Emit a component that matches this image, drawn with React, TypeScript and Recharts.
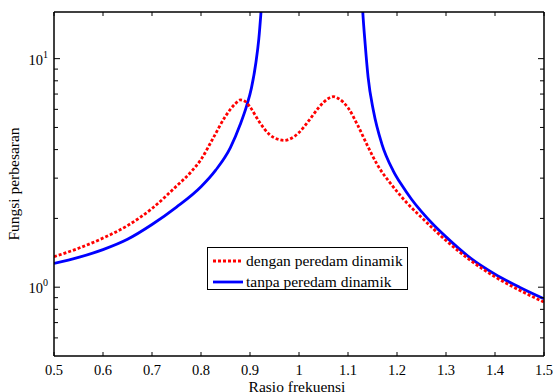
import React from 'react';
import { LineChart, Line, XAxis, YAxis } from 'recharts';

// rasio frekuensi (x) and fungsi perbesaran (y)
const rasioDengan = [0.5, 0.55, 0.6, 0.65, 0.7, 0.75, 0.78, 0.8, 0.825, 0.85, 0.87, 0.88, 0.89, 0.9, 0.92, 0.94, 0.96, 0.97, 0.98, 1.0, 1.02, 1.04, 1.06, 1.07, 1.08, 1.1, 1.12, 1.14, 1.16, 1.19, 1.22, 1.25, 1.3, 1.35, 1.4, 1.45, 1.5];
const fungsiDengan = [1.36, 1.48, 1.64, 1.86, 2.21, 2.77, 3.2, 3.62, 4.5, 5.6, 6.35, 6.6, 6.5, 6.15, 5.25, 4.65, 4.42, 4.39, 4.44, 4.75, 5.35, 6.1, 6.7, 6.82, 6.7, 6.1, 5.1, 4.15, 3.43, 2.79, 2.34, 2.02, 1.6, 1.31, 1.11, 0.97, 0.86];

const rasioTanpa = [0.5, 0.55, 0.6, 0.65, 0.7, 0.75, 0.8, 0.83, 0.86, 0.88, 0.893, 0.903, 0.912, 0.918, 0.922, 0.928, 1.0, 1.126, 1.13, 1.135, 1.141, 1.152, 1.169, 1.192, 1.21, 1.23, 1.25, 1.275, 1.3, 1.35, 1.4, 1.45, 1.5];
const fungsiTanpa = [1.27, 1.35, 1.46, 1.62, 1.88, 2.24, 2.75, 3.25, 4.08, 5.15, 6.2, 7.45, 9.6, 12.2, 15.5, 24, null, 24, 16.2, 11.6, 8.3, 5.9, 4.24, 3.24, 2.79, 2.42, 2.14, 1.87, 1.66, 1.34, 1.14, 1.0, 0.89];

const xTicks = [0.5, 0.6, 0.7, 0.8, 0.9, 1, 1.1, 1.2, 1.3, 1.4, 1.5];
const xTickLabels = ['0.5', '0.6', '0.7', '0.8', '0.9', '1', '1.1', '1.2', '1.3', '1.4', '1.5'];
const majorYTicks = [1, 10];
const majorYExp = ['0', '1'];
const minorYTicks = [0.6, 0.7, 0.8, 0.9, 2, 3, 4, 5, 6, 7, 8, 9];

const dataDengan = rasioDengan.map((r, i) => ({ r, v: fungsiDengan[i] }));
const dataTanpa = rasioTanpa.map((r, i) => ({ r, v: fungsiTanpa[i] }));
const yTicks = [...minorYTicks, ...majorYTicks].sort((a, b) => a - b);

const FONT = '"Liberation Serif", "Times New Roman", serif';

const majorIndex = (v: number) => majorYTicks.findIndex((m) => Math.abs(m - v) < 1e-9);

const LeftTick = (props: any) => {
  const { x, y, payload } = props;
  const mi = majorIndex(payload.value);
  return (
    <g>
      <line x1={x} y1={y} x2={x + (mi >= 0 ? 6 : 4)} y2={y} stroke="#000" strokeWidth={1} />
      {mi >= 0 && (
        <text x={x - 6} y={y + 6} textAnchor="end" fontSize={14.5} fontFamily={FONT} fill="#000">
          10<tspan dy={-7} fontSize={10}>{majorYExp[mi]}</tspan>
        </text>
      )}
    </g>
  );
};

const RightTick = (props: any) => {
  const { x, y, payload } = props;
  const mi = majorIndex(payload.value);
  return <line x1={x} y1={y} x2={x - (mi >= 0 ? 6 : 4)} y2={y} stroke="#000" strokeWidth={1} />;
};

const BottomTick = (props: any) => {
  const { x, y, payload } = props;
  const i = xTicks.findIndex((t) => Math.abs(t - payload.value) < 1e-9);
  return (
    <g>
      <line x1={x} y1={y} x2={x} y2={y - 4} stroke="#000" strokeWidth={1} />
      <text x={x} y={y + 19} textAnchor="middle" fontSize={14.5} fontFamily={FONT} fill="#000">
        {xTickLabels[i]}
      </text>
    </g>
  );
};

const TopTick = (props: any) => {
  const { x, y } = props;
  return <line x1={x} y1={y} x2={x} y2={y + 4} stroke="#000" strokeWidth={1} />;
};

const legendItems = [
  { label: 'dengan peredam dinamik', color: '#ff0000', dash: '3 2' },
  { label: 'tanpa peredam dinamik', color: '#0000ff', dash: undefined },
];

export default function App() {
  return (
    <div style={{ position: 'absolute', left: 0, top: 0, width: 553, height: 392, background: '#fff', overflow: 'hidden' }}>
      <LineChart width={553} height={392} margin={{ top: 0, right: 0, bottom: 0, left: 0 }}>
        <XAxis
          xAxisId="bottom"
          dataKey="r"
          type="number"
          domain={[0.5, 1.5]}
          ticks={xTicks}
          allowDataOverflow
          height={36}
          tickSize={0}
          tickMargin={0}
          tickLine={false}
          axisLine={{ stroke: '#000', strokeWidth: 1.5 }}
          tick={<BottomTick />}
          interval={0}
        />
        <XAxis
          xAxisId="top"
          orientation="top"
          dataKey="r"
          type="number"
          domain={[0.5, 1.5]}
          ticks={xTicks}
          allowDataOverflow
          height={12}
          tickSize={0}
          tickMargin={0}
          tickLine={false}
          axisLine={{ stroke: '#000', strokeWidth: 1.5 }}
          tick={<TopTick />}
          interval={0}
        />
        <YAxis
          yAxisId="left"
          scale="log"
          domain={[0.5, 16]}
          ticks={yTicks}
          allowDataOverflow
          width={54}
          tickSize={0}
          tickMargin={0}
          tickLine={false}
          axisLine={{ stroke: '#000', strokeWidth: 1.5 }}
          tick={<LeftTick />}
          interval={0}
        />
        <YAxis
          yAxisId="right"
          orientation="right"
          scale="log"
          domain={[0.5, 16]}
          ticks={yTicks}
          allowDataOverflow
          width={9}
          tickSize={0}
          tickMargin={0}
          tickLine={false}
          axisLine={{ stroke: '#000', strokeWidth: 1.5 }}
          tick={<RightTick />}
          interval={0}
        />
        <Line
          data={dataTanpa}
          xAxisId="bottom"
          yAxisId="left"
          dataKey="v"
          type="monotone"
          stroke="#0000ff"
          strokeWidth={2.8}
          dot={false}
          connectNulls={false}
          isAnimationActive={false}
        />
        <Line
          data={dataDengan}
          xAxisId="bottom"
          yAxisId="left"
          dataKey="v"
          type="monotone"
          stroke="#ff0000"
          strokeWidth={2.8}
          strokeDasharray="3 2"
          dot={false}
          isAnimationActive={false}
        />
      </LineChart>
      <div
        style={{
          position: 'absolute',
          left: 14,
          top: 184,
          transform: 'translate(-50%, -50%) rotate(-90deg)',
          fontFamily: FONT,
          fontSize: 15.5,
          whiteSpace: 'nowrap',
          color: '#000',
        }}
      >
        Fungsi perbesaran
      </div>
      <div
        style={{
          position: 'absolute',
          left: 297,
          top: 379,
          transform: 'translateX(-50%)',
          fontFamily: FONT,
          fontSize: 15.5,
          lineHeight: 1,
          whiteSpace: 'nowrap',
          color: '#000',
        }}
      >
        Rasio frekuensi
      </div>
      <div
        style={{
          position: 'absolute',
          left: 207,
          top: 247,
          width: 199,
          height: 41,
          border: '1.5px solid #000',
          background: '#fff',
          fontFamily: FONT,
          fontSize: 15.5,
          color: '#000',
        }}
      >
        {legendItems.map((it, i) => (
          <div key={it.label} style={{ position: 'absolute', left: 0, top: 3 + i * 21, height: 20, display: 'flex', alignItems: 'center', whiteSpace: 'nowrap' }}>
            <svg width={38} height={20}>
              <line x1={5} y1={10} x2={35} y2={10} stroke={it.color} strokeWidth={2.8} strokeDasharray={it.dash} />
            </svg>
            <span>{it.label}</span>
          </div>
        ))}
      </div>
    </div>
  );
}
